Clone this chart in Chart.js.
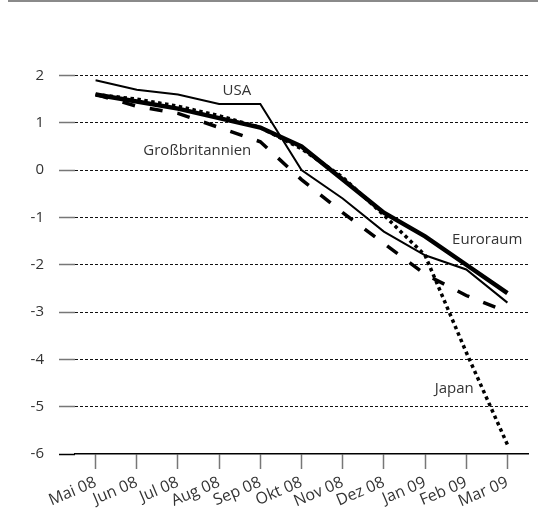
<!DOCTYPE html>
<html>
<head>
<meta charset="utf-8">
<script src="https://cdn.jsdelivr.net/npm/chart.js@4"></script>
<style>
  body { margin: 0; background: #fff; }
  #wrap { position: relative; width: 538px; height: 520px; }
  #topline { position: absolute; left: 8px; right: 0; top: 0; height: 2px; background: #8a8a8a; }
</style>
</head>
<body>
<div id="wrap">
  <div id="topline"></div>
  <canvas id="chart" width="538" height="520"></canvas>
</div>
<script>
const months = ['Mai 08', 'Jun 08', 'Jul 08', 'Aug 08', 'Sep 08', 'Okt 08', 'Nov 08', 'Dez 08', 'Jan 09', 'Feb 09', 'Mar 09'];

const usa = [1.9, 1.7, 1.6, 1.4, 1.4, 0.0, -0.6, -1.3, -1.8, -2.1, -2.8];
const euroraum = [1.6, 1.45, 1.3, 1.1, 0.9, 0.5, -0.2, -0.9, -1.4, -2.0, -2.6];
const grossbritannien = [1.6, 1.35, 1.2, 0.9, 0.6, -0.2, -0.9, -1.55, -2.2, -2.65, -3.0];
const japan = [1.6, 1.5, 1.35, 1.15, 0.9, 0.45, -0.15, -0.95, -1.8, -3.85, -5.8];

const yTicks = [2, 1, 0, -1, -2, -3, -4, -5, -6];

// series name labels, anchored in data space (month index, value)
const seriesLabels = ['USA', 'Großbritannien', 'Euroraum', 'Japan'];
const labelIndex = [3.43, 2.47, 9.51, 8.71];
const labelValue = [1.67, 0.42, -1.47, -4.63];

const font = '"Open Sans", sans-serif';
const textColor = '#333';

const seriesLabelPlugin = {
    id: 'seriesLabels',
    afterDatasetsDraw(chart) {
        const c = chart.ctx;
        const x = chart.scales.x, y = chart.scales.y;
        c.save();
        c.font = '15px ' + font;
        c.fillStyle = textColor;
        c.textAlign = 'center';
        c.textBaseline = 'middle';
        seriesLabels.forEach((t, i) => {
            c.fillText(t, x.getPixelForValue(labelIndex[i]), y.getPixelForValue(labelValue[i]));
        });
        c.restore();
    }
};

new Chart(document.getElementById('chart'), {
    type: 'line',
    data: {
        labels: months,
        datasets: [
            {
                label: 'Japan',
                data: japan,
                borderColor: '#000',
                borderWidth: 3.5,
                borderDash: [3.5, 3.5],
                pointRadius: 0,
                tension: 0,
                order: 4
            },
            {
                label: 'Großbritannien',
                data: grossbritannien,
                borderColor: '#000',
                borderWidth: 3.5,
                borderDash: [13, 15],
                pointRadius: 0,
                tension: 0,
                order: 3
            },
            {
                label: 'USA',
                data: usa,
                borderColor: '#000',
                borderWidth: 2,
                pointRadius: 0,
                tension: 0,
                order: 2
            },
            {
                label: 'Euroraum',
                data: euroraum,
                borderColor: '#000',
                borderWidth: 4.5,
                pointRadius: 0,
                tension: 0,
                order: 1
            }
        ]
    },
    options: {
        responsive: false,
        animation: false,
        layout: {
            padding: { top: 75.5, right: 10, bottom: 0, left: 0 }
        },
        plugins: {
            legend: { display: false },
            tooltip: { enabled: false }
        },
        scales: {
            x: {
                offset: true,
                afterFit: (s) => { s.height = 66; },
                grid: {
                    drawOnChartArea: false,
                    drawTicks: true,
                    tickLength: 15,
                    tickColor: '#777',
                    tickWidth: 1.5,
                    offset: false
                },
                border: { display: true, color: '#000', width: 1.5 },
                ticks: {
                    color: textColor,
                    font: { family: font, size: 16 },
                    minRotation: 23,
                    maxRotation: 23,
                    padding: 4,
                    autoSkip: false
                }
            },
            y: {
                min: -6,
                max: 2,
                afterFit: (s) => { s.width = 75; },
                afterBuildTicks: (s) => { s.ticks = yTicks.map(v => ({ value: v })); },
                grid: {
                    color: (ctx) => ctx.tick && ctx.tick.value === -6 ? 'rgba(0,0,0,0)' : '#111',
                    lineWidth: 1,
                    drawTicks: true,
                    tickLength: 16,
                    tickColor: (ctx) => ctx.tick && ctx.tick.value === -6 ? '#000' : '#777',
                    tickWidth: 1.5,
                    tickBorderDash: []
                },
                border: { display: false, dash: [3, 2] },
                ticks: {
                    color: textColor,
                    font: { family: font, size: 15 },
                    padding: 15
                }
            }
        }
    },
    plugins: [seriesLabelPlugin]
});
</script>
</body>
</html>
